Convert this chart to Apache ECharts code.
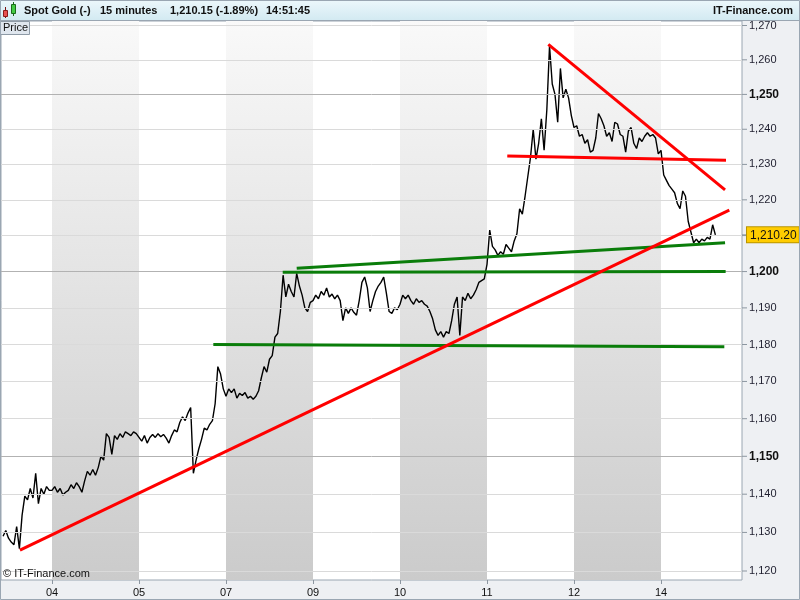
<!DOCTYPE html>
<html><head><meta charset="utf-8">
<script src="https://cdn.jsdelivr.net/npm/echarts@6/dist/echarts.min.js"></script>
<style>html,body{margin:0;padding:0;background:#fff}#c{width:800px;height:600px}</style>
</head><body><div id="c"></div>
<script>
// ---------- data ----------
const dayLabels = ['04', '05', '07', '09', '10', '11', '12', '14'];
const dayTickPos = [0, 1, 2, 3, 4, 5, 6, 7];
const shadedDays = [0, 2, 4, 6];
const yTicks = [1120, 1130, 1140, 1150, 1160, 1170, 1180, 1190, 1200, 1210, 1220, 1230, 1240, 1250, 1260, 1270];
const boldTicks = [1150, 1200, 1250];
const lastPrice = 1210.20;
const barsPerDay = 32;

const s03 = [1129.0, 1130.5, 1128.5, 1127.5, 1126.8, 1131.5, 1125.8, 1134.5, 1139.5, 1138.5, 1141.5, 1139.0, 1145.5, 1137.5, 1141.5, 1140.0, 1142.0, 1141.0];
const s04 = [1141.0, 1142.0, 1140.5, 1141.5, 1139.8, 1140.5, 1141.0, 1142.5, 1141.5, 1143.0, 1142.0, 1140.5, 1143.5, 1146.0, 1145.0, 1146.5, 1145.0, 1147.0, 1150.0, 1149.0, 1156.0, 1155.0, 1150.5, 1155.5, 1154.5, 1156.0, 1155.0, 1156.5, 1156.0, 1155.5, 1156.5, 1156.0];
const s05 = [1155.0, 1154.0, 1155.5, 1153.5, 1155.0, 1155.8, 1155.0, 1156.0, 1155.2, 1155.8, 1154.8, 1153.5, 1155.5, 1157.0, 1156.5, 1159.0, 1160.5, 1159.5, 1161.5, 1163.0, 1145.5, 1149.0, 1152.0, 1154.5, 1157.5, 1157.0, 1158.5, 1159.5, 1164.0, 1174.0, 1172.0, 1168.0];
const s07 = [1166.0, 1168.0, 1167.0, 1168.0, 1165.5, 1166.8, 1166.2, 1167.0, 1165.5, 1166.0, 1165.2, 1166.0, 1167.5, 1171.0, 1174.0, 1172.5, 1176.0, 1177.0, 1182.0, 1183.0, 1189.0, 1199.0, 1193.0, 1196.5, 1194.5, 1193.0, 1199.5, 1196.0, 1193.5, 1190.0, 1189.0, 1191.5];
const s09 = [1192.0, 1193.5, 1192.5, 1194.5, 1193.5, 1195.5, 1193.0, 1193.8, 1192.5, 1193.5, 1192.0, 1186.5, 1190.0, 1188.5, 1190.0, 1188.8, 1188.0, 1192.0, 1197.0, 1198.5, 1195.5, 1189.0, 1192.0, 1194.5, 1196.0, 1197.0, 1198.5, 1194.0, 1189.0, 1188.5, 1190.0, 1189.5];
const s10 = [1191.0, 1193.5, 1192.5, 1193.5, 1192.0, 1191.0, 1192.5, 1191.5, 1192.0, 1191.0, 1190.5, 1189.0, 1187.0, 1184.0, 1182.5, 1183.5, 1182.0, 1183.5, 1183.0, 1186.5, 1191.0, 1193.0, 1182.5, 1193.0, 1192.0, 1194.0, 1192.5, 1193.5, 1195.0, 1197.0, 1197.5, 1198.0];
const s11 = [1202.0, 1211.5, 1207.0, 1206.0, 1204.5, 1205.5, 1204.8, 1207.5, 1206.5, 1205.5, 1208.5, 1210.5, 1217.5, 1216.0, 1221.0, 1226.5, 1232.0, 1240.0, 1231.5, 1236.0, 1243.0, 1234.0, 1245.5, 1264.0, 1253.0, 1250.0, 1242.0, 1257.5, 1249.0, 1251.5, 1249.0, 1244.0];
const s12 = [1240.5, 1241.0, 1238.0, 1238.5, 1236.0, 1237.0, 1233.5, 1234.0, 1237.5, 1244.5, 1243.0, 1241.0, 1238.0, 1239.0, 1236.5, 1242.0, 1241.5, 1238.5, 1238.0, 1233.5, 1239.5, 1240.5, 1236.0, 1234.5, 1237.5, 1236.5, 1238.0, 1239.0, 1238.0, 1238.5, 1237.5, 1233.0];
const s14 = [1234.0, 1227.0, 1225.5, 1224.0, 1223.0, 1222.0, 1219.0, 1217.5, 1222.5, 1221.0, 1214.0, 1211.0, 1208.0, 1209.0, 1208.0, 1209.0, 1208.5, 1209.5, 1209.0, 1213.0, 1210.2];
const sessionStarts = [-18 / 32, 0, 1, 2, 3, 4, 5, 6, 7];
const sessionValues = [s03, s04, s05, s07, s09, s10, s11, s12, s14];

// drawn trend lines: [day, price] endpoints
const redUp    = [[-0.368, 1125.4], [7.785, 1217.1]];
const redDown  = [[5.705, 1264.5], [7.736, 1222.8]];
const redFlat  = [[5.233, 1232.4], [7.747, 1231.2]];
const greenUp  = [[2.813, 1200.9], [7.736, 1208.0]];
const green1200 = [[2.652, 1199.8], [7.743, 1200.0]];
const green1180 = [[1.854, 1180.0], [7.728, 1179.4]];

// ---------- build ----------
const priceData = [];
sessionValues.forEach((vals, k) => {
  vals.forEach((v, i) => priceData.push([sessionStarts[k] + i / barsPerDay, v]));
});
const FONT = 'Liberation Sans, Arial, sans-serif';
const fmt = v => v.toLocaleString('en-US');
const rich = {
  t: { width: 5, height: 1, backgroundColor: '#8c96a0' },
  n: { fontSize: 11, color: '#1e1e2e', fontFamily: FONT, padding: [0, 0, 0, 2] },
  b: { fontSize: 12, fontWeight: 'bold', color: '#111', fontFamily: FONT, padding: [0, 0, 0, 2] },
  p: { fontSize: 12, color: '#111', fontFamily: FONT, backgroundColor: '#ffcc00', borderColor: '#b89400', borderWidth: 1, padding: [2, 2, 1, 3] }
};
const gridLines = yTicks.map(v => {
  const bold = boldTicks.includes(v);
  return {
    yAxis: v,
    lineStyle: { color: bold ? '#b2b2b2' : '#dadada', width: 1, type: 'solid' },
    label: { formatter: '{t|}{' + (bold ? 'b' : 'n') + '|' + fmt(v) + '}' }
  };
});
gridLines.push({
  yAxis: lastPrice,
  lineStyle: { color: 'rgba(0,0,0,0)', width: 1, type: 'solid' },
  label: { formatter: '{t|}{p|' + lastPrice.toLocaleString('en-US', { minimumFractionDigits: 2 }) + '}' }
});
const bandGradient = new echarts.graphic.LinearGradient(0, 0, 0, 1, [
  { offset: 0, color: '#f9f9f9' }, { offset: 1, color: '#cbcbcb' }
]);
function trend(data, color) {
  return {
    type: 'line', data: data, symbol: 'none', silent: true, z: 5,
    lineStyle: { color: color, width: 3 }, clip: false
  };
}

const chart = echarts.init(document.getElementById('c'), null, { renderer: 'canvas' });
chart.setOption({
  animation: false,
  backgroundColor: '#eef0f3',
  textStyle: { fontFamily: FONT },
  grid: { left: 1, right: 58, top: 21, bottom: 20, show: true, backgroundColor: '#ffffff', borderColor: '#9aa6b2', borderWidth: 1 },
  xAxis: {
    type: 'value', min: -0.5862, max: 7.931,
    axisLine: { show: false }, splitLine: { show: false },
    axisTick: { show: true, length: 4, lineStyle: { color: '#8c96a0' }, customValues: dayTickPos },
    axisLabel: { customValues: dayTickPos, formatter: v => dayLabels[Math.round(v)], fontSize: 11, color: '#111', margin: 7, fontFamily: FONT }
  },
  yAxis: {
    type: 'log', logBase: 10, min: 1117.68, max: 1271.32, position: 'right',
    axisLine: { show: false }, axisTick: { show: false }, axisLabel: { show: false }, splitLine: { show: false }
  },
  graphic: [
    { type: 'rect', shape: { x: 0, y: 0, width: 800, height: 20 }, style: { fill: new echarts.graphic.LinearGradient(0, 0, 0, 1, [{ offset: 0, color: '#ecf7fb' }, { offset: 1, color: '#d3eaf2' }]) }, z: 10 },
    { type: 'line', shape: { x1: 0, y1: 20.5, x2: 800, y2: 20.5 }, style: { stroke: '#9aa6b2', lineWidth: 1 }, z: 10 },
    { type: 'line', shape: { x1: 5.5, y1: 7, x2: 5.5, y2: 18 }, style: { stroke: '#7a1010', lineWidth: 1 }, z: 10 },
    { type: 'rect', shape: { x: 3.5, y: 10.5, width: 4, height: 6 }, style: { fill: '#e85050', stroke: '#8a1a1a', lineWidth: 1 }, z: 11 },
    { type: 'line', shape: { x1: 13.5, y1: 2, x2: 13.5, y2: 16 }, style: { stroke: '#1a6a1a', lineWidth: 1 }, z: 10 },
    { type: 'rect', shape: { x: 11.5, y: 4.5, width: 4, height: 9 }, style: { fill: '#44cc44', stroke: '#1a6a1a', lineWidth: 1 }, z: 11 },
    { type: 'text', x: 24, y: 11, style: { text: 'Spot Gold (-)', fill: '#111', font: 'bold 11px ' + FONT, textVerticalAlign: 'middle' }, z: 11 },
    { type: 'text', x: 100, y: 11, style: { text: '15 minutes', fill: '#111', font: 'bold 11px ' + FONT, textVerticalAlign: 'middle' }, z: 11 },
    { type: 'text', x: 170, y: 11, style: { text: '1,210.15 (-1.89%)', fill: '#111', font: 'bold 11px ' + FONT, textVerticalAlign: 'middle' }, z: 11 },
    { type: 'text', x: 266, y: 11, style: { text: '14:51:45', fill: '#111', font: 'bold 11px ' + FONT, textVerticalAlign: 'middle' }, z: 11 },
    { type: 'text', x: 793, y: 11, style: { text: 'IT-Finance.com', fill: '#111', font: 'bold 11px ' + FONT, textAlign: 'right', textVerticalAlign: 'middle' }, z: 11 },
    { type: 'rect', shape: { x: 0.5, y: 21.5, width: 29, height: 13 }, style: { fill: '#dfe6ee', stroke: '#8e9aa6', lineWidth: 1 }, z: 11 },
    { type: 'text', x: 3, y: 28, style: { text: 'Price', fill: '#111', font: '11px ' + FONT, textVerticalAlign: 'middle' }, z: 12 },
    { type: 'text', x: 3, y: 574, style: { text: '© IT-Finance.com', fill: '#111', font: '11px ' + FONT, textVerticalAlign: 'middle' }, z: 11 },
    { type: 'rect', shape: { x: 0.5, y: 0.5, width: 799, height: 599 }, style: { fill: 'none', stroke: '#9aa6b2', lineWidth: 1 }, z: 20 }
  ],
  series: [
    {
      type: 'line', data: [], z: 1, silent: true, clip: false,
      markArea: {
        silent: true,
        itemStyle: { color: bandGradient },
        data: shadedDays.map(d => [{ xAxis: d }, { xAxis: d + 1 }])
      }
    },
    {
      type: 'line', data: [], z: 2, silent: true, clip: false,
      markLine: {
        silent: true, symbol: ['none', 'none'], animation: false,
        label: { show: true, position: 'end', distance: 0, rich: rich },
        data: gridLines
      }
    },
    {
      type: 'line', data: priceData, symbol: 'none', silent: true, z: 3,
      lineStyle: { color: '#000', width: 1.4 }
    },
    trend(green1180, '#0a7d0a'),
    trend(green1200, '#0a7d0a'),
    trend(greenUp, '#0a7d0a'),
    trend(redUp, '#ff0000'),
    trend(redDown, '#ff0000'),
    trend(redFlat, '#ff0000')
  ]
});
</script></body></html>
